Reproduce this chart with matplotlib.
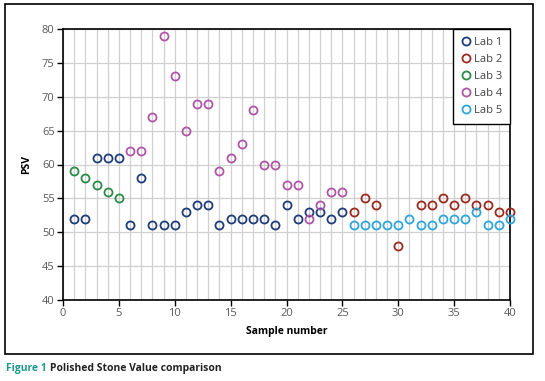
import numpy as np
import matplotlib.pyplot as plt
from matplotlib.patches import Rectangle

# data
lab1_x = list(range(1, 26))
lab1_y = [52, 52, 61, 61, 61, 51, 58, 51, 51, 51, 53, 54, 54, 51, 52, 52, 52, 52, 51, 54, 52, 53, 53, 52, 53]

lab2_x = [26, 27, 28, 30, 32, 33, 34, 35, 36, 37, 38, 39, 40]
lab2_y = [53, 55, 54, 48, 54, 54, 55, 54, 55, 54, 54, 53, 53]

lab3_x = [1, 2, 3, 4, 5]
lab3_y = [59, 58, 57, 56, 55]

lab4_x = list(range(6, 26))
lab4_y = [62, 62, 67, 79, 73, 65, 69, 69, 59, 61, 63, 68, 60, 60, 57, 57, 52, 54, 56, 56]

lab5_x = list(range(26, 41))
lab5_y = [51, 51, 51, 51, 51, 52, 51, 51, 52, 52, 52, 53, 51, 51, 52]

labels = ['Lab 1', 'Lab 2', 'Lab 3', 'Lab 4', 'Lab 5']
colors = ['#1f3d7a', '#9c2b1f', '#2a8c48', '#b056a8', '#2ea6da']

plt.rcParams['font.family'] = ['Open Sans', 'DejaVu Sans']

fig = plt.figure(figsize=(5.45, 3.81), dpi=100)
ax = fig.add_axes([63 / 545, 1 - 300 / 381, (510 - 63) / 545, (300 - 29) / 381])

series = [(lab1_x, lab1_y), (lab2_x, lab2_y), (lab3_x, lab3_y), (lab4_x, lab4_y), (lab5_x, lab5_y)]
for (xs, ys), lab, col in zip(series, labels, colors):
    ax.plot(xs, ys, 'o', mfc='none', mec=col, mew=1.3, ms=5.8, label=lab, clip_on=False, zorder=3)

ax.set_xlim(0, 40)
ax.set_ylim(40, 80)
ax.set_xticks(np.arange(0, 41, 5))
ax.set_yticks(np.arange(40, 81, 5))
ax.set_xticks(np.arange(0, 41, 1), minor=True)
ax.grid(True, which='both', axis='x', color='#d0d0d0', lw=0.9)
ax.grid(True, which='major', axis='y', color='#d0d0d0', lw=0.9)
ax.set_axisbelow(True)
ax.tick_params(which='minor', length=0)
ax.tick_params(which='major', length=4, width=1, labelsize=8, labelcolor='#5a5a5a', pad=2)
for s in ax.spines.values():
    s.set_linewidth(1.2)
    s.set_color('black')

ax.set_xlabel('Sample number', fontsize=7.5, fontweight='bold', labelpad=5)
ax.set_ylabel('PSV', fontsize=7.5, fontweight='bold', labelpad=7)

leg = ax.legend(loc='upper right', fontsize=8, frameon=True, fancybox=False,
                edgecolor='black', borderaxespad=0, handletextpad=0.2,
                handlelength=1.0, labelspacing=0.55, borderpad=0.7,
                framealpha=1)
leg.get_frame().set_linewidth(1.0)
for t in leg.get_texts():
    t.set_color('#444444')

# outer frame around the chart
fig.patches.append(Rectangle((5 / 545, 1 - 354 / 381), (533 - 5) / 545, (354 - 4) / 381,
                             transform=fig.transFigure, fill=False, edgecolor='black', lw=1.2))

t1 = fig.text(6 / 545, 1 - 368 / 381, 'Figure 1', color='#1a9a8c', fontsize=7.5, fontweight='bold', va='center')
fig.canvas.draw()
bb = t1.get_window_extent()
fig.text(bb.x1 / fig.bbox.width + 3 / 545, 1 - 368 / 381, 'Polished Stone Value comparison',
         color='#222222', fontsize=7.5, fontweight='bold', va='center')

plt.savefig('out.png', dpi=100)
plt.close()
